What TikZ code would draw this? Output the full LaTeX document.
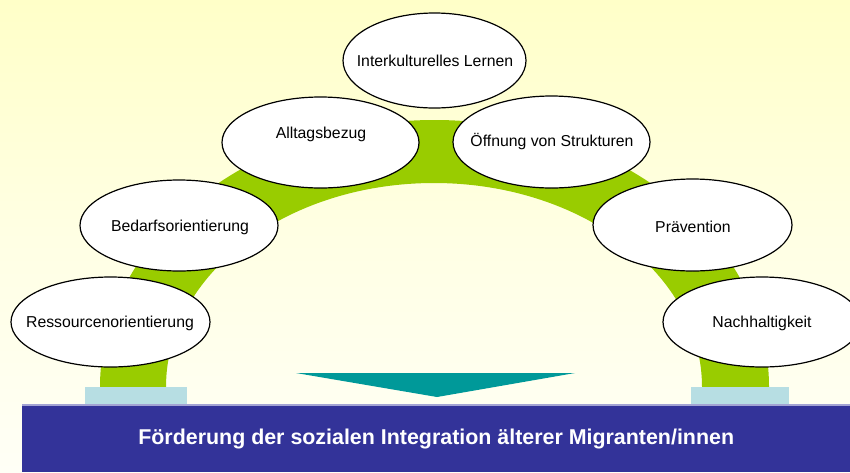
\documentclass[tikz,border=0pt]{standalone}
\usepackage{fontspec}
\setmainfont{Liberation Sans}
\usetikzlibrary{shapes.geometric}
\definecolor{bgtop}{HTML}{FFFFC8}
\definecolor{bgbot}{HTML}{FFFFF6}
\definecolor{archgreen}{HTML}{99CC00}
\definecolor{pedestal}{HTML}{B7DEE3}
\definecolor{barblue}{HTML}{333399}
\definecolor{barline}{HTML}{A3A3D3}
\definecolor{arrowteal}{HTML}{009999}
\newcommand{\bubtxt}[1]{\makebox[0pt]{\raisebox{0pt}[0pt][0pt]{#1}}}
\tikzset{
  bubble/.style={ellipse, draw=black, line width=1.2pt, fill=white, inner sep=0pt,
    font=\fontsize{15.8}{18}\selectfont, text=black},
  bubblelabel/.style={font=\fontsize{15.8}{18}\selectfont, text=black, inner sep=0pt},
}
\begin{document}
\begin{tikzpicture}[x=1pt,y=-1pt]
\useasboundingbox (0,0) rectangle (850,472);
\clip (0,0) rectangle (850,472);
\shade[top color=bgtop, bottom color=bgbot, middle color=bgbot!60!bgtop] (0,0) rectangle (850,472);
% arch
\fill[archgreen] (100,387) arc[start angle=180,end angle=0,x radius=334.5pt,y radius=267pt]
  -- (702,387) arc[start angle=0,end angle=180,x radius=268pt,y radius=204pt] -- cycle;
% pedestals
\fill[pedestal] (85,387) rectangle (187,405);
\fill[pedestal] (691,387) rectangle (789,405);
% arrow
\fill[arrowteal] (296,373) -- (575,373) -- (437,397) -- cycle;
% bar
\node[fill=barblue, minimum width=828pt, minimum height=67pt, inner sep=0pt, anchor=north west,
  text=white, font=\bfseries\fontsize{21.4}{24}\selectfont] (bar) at (22,405)
  {Förderung der sozialen Integration älterer Migranten/innen};
\draw[barline, line width=1.2pt] (bar.north west) -- (bar.north east);
% bubbles
\node[bubble, minimum width=183pt, minimum height=95pt] (inter) at (434.5,60.5) {};
\node[bubblelabel] (intertext) at (435,61) {Interkulturelles Lernen};
\node[bubble, minimum width=197pt, minimum height=91pt] (alltag) at (320.5,142.5) {};
\node[bubblelabel] (alltagtext) at (321,134) {Alltagsbezug};
\node[bubble, minimum width=197pt, minimum height=92pt] (oeff) at (551.5,142) {};
\node[bubblelabel] (oefftext) at (552,142) {Öffnung von Strukturen};
\node[bubble, minimum width=198pt, minimum height=91pt] (bedarf) at (179,225.5) {};
\node[bubblelabel] (bedarftext) at (180,227) {Bedarfsorientierung};
\node[bubble, minimum width=199pt, minimum height=90pt] (ress) at (110.5,322) {};
\node[bubblelabel] (resstext) at (110,323) {Ressourcenorientierung};
\node[bubble, minimum width=199pt, minimum height=92pt] (praev) at (692.5,225) {};
\node[bubblelabel] (praevtext) at (693,227) {Prävention};
\node[bubble, minimum width=198pt, minimum height=90pt] (nach) at (762,322) {};
\node[bubblelabel] (nachtext) at (762,323) {Nachhaltigkeit};
\end{tikzpicture}
\end{document}
